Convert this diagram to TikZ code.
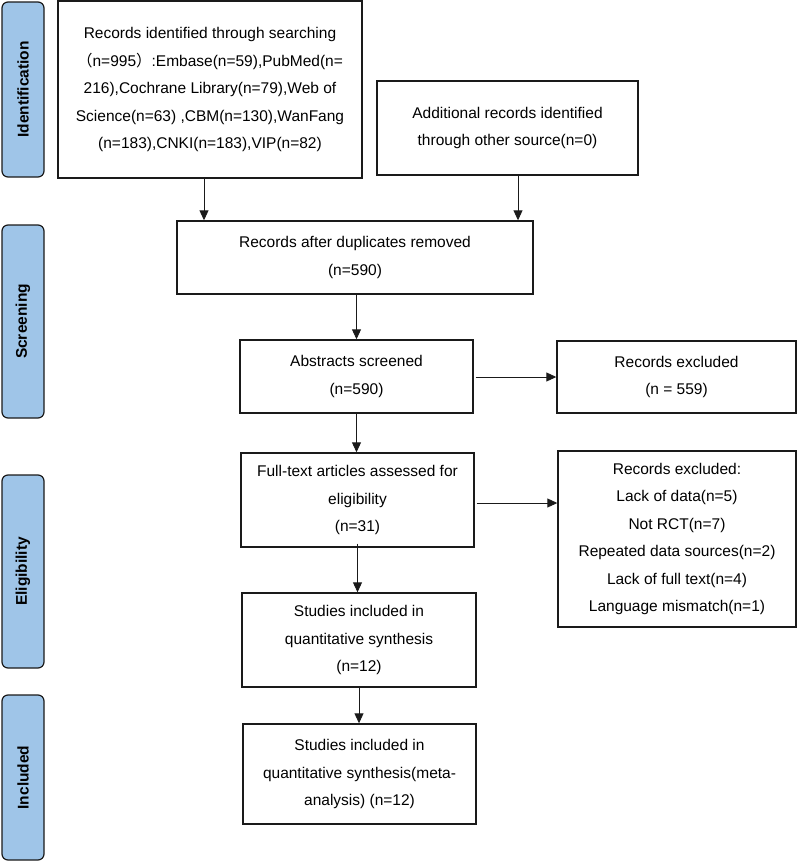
\documentclass[tikz,border=0pt]{standalone}
\usepackage{fontspec}
\setmainfont{Liberation Sans}
\newfontfamily\cjk{Noto Sans CJK SC}
\usetikzlibrary{arrows.meta}
\definecolor{sideblue}{HTML}{9FC5E8}
\definecolor{edge}{HTML}{1A1A1A}
\tikzset{
  box/.style={draw=edge, line width=1.4pt, rectangle, align=center, inner sep=0pt,
    font=\fontsize{15.5}{27.5}\selectfont},
  side/.style={draw=edge, line width=1.2pt, fill=sideblue, rounded corners=6pt,
    minimum width=42pt, inner sep=0pt, font=\bfseries\fontsize{15.5}{18}\selectfont},
  arr/.style={draw=edge, line width=0.9pt, -{Triangle[length=10pt,width=9pt]}}
}
\begin{document}
\begin{tikzpicture}[x=1pt,y=-1pt]
\useasboundingbox (0,0) rectangle (797,862);
% side labels
\node[side, minimum height=175pt] (sid) at (23,89.5) {\rotatebox{90}{Identification}};
\node[side, minimum height=193pt] (ssc) at (23,321.5) {\rotatebox{90}{Screening}};
\node[side, minimum height=193pt] (sel) at (23,571.5) {\rotatebox{90}{Eligibility}};
\node[side, minimum height=165pt] (sin) at (23,777.5) {\rotatebox{90}{Included}};
% boxes
\node[box, minimum width=304pt, minimum height=177pt] (b1) at (210,89.5)
 {Records identified through searching\\
  {\cjk （}n=995{\cjk ）}:Embase(n=59),PubMed(n=\\
  216),Cochrane Library(n=79),Web of\\
  Science(n=63) ,CBM(n=130),WanFang\\
  (n=183),CNKI(n=183),VIP(n=82)};
\node[box, minimum width=261pt, minimum height=94pt] (b2) at (507.5,128)
 {Additional records identified\\ through other source(n=0)};
\node[box, minimum width=356pt, minimum height=73pt] (b3) at (355,257.5)
 {Records after duplicates removed\\ (n=590)};
\node[box, minimum width=233pt, minimum height=73pt] (b4) at (356.5,376.5)
 {Abstracts screened\\ (n=590)};
\node[box, minimum width=239pt, minimum height=72pt] (e1) at (676.5,377)
 {Records excluded\\ (n = 559)};
\node[box, minimum width=233pt, minimum height=94pt] (b5) at (357.5,500)
 {Full-text articles assessed for\\ eligibility\\ (n=31)};
\node[box, minimum width=238pt, minimum height=176pt] (e2) at (677,539)
 {Records excluded:\\ Lack of data(n=5)\\ Not RCT(n=7)\\ Repeated data sources(n=2)\\ Lack of full text(n=4)\\ Language mismatch(n=1)};
\node[box, minimum width=234pt, minimum height=94pt] (b6) at (359,640)
 {Studies included in\\ quantitative synthesis\\ (n=12)};
\node[box, minimum width=233pt, minimum height=100pt] (b7) at (359.5,774)
 {Studies included in\\ quantitative synthesis(meta-\\ analysis) (n=12)};
% arrows
\coordinate (x1) at (204,0);
\coordinate (x2) at (518,0);
\draw[arr] (b1.south -| x1) -- (b3.north -| x1);
\draw[arr] (b2.south -| x2) -- (b3.north -| x2);
\draw[arr] (b3.south -| b4.north) -- (b4.north);
\draw[arr] ([xshift=2pt]b4.east |- e1.west) -- (e1.west);
\draw[arr] (b4.south) -- (b4.south |- b5.north);
\draw[arr] ([xshift=2pt]b5.east |- 0,503) -- (e2.west |- 0,503);
\draw[arr] ([yshift=4pt]b5.south) -- (b5.south |- b6.north);
\draw[arr] (b6.south) -- (b6.south |- b7.north);
\end{tikzpicture}
\end{document}
